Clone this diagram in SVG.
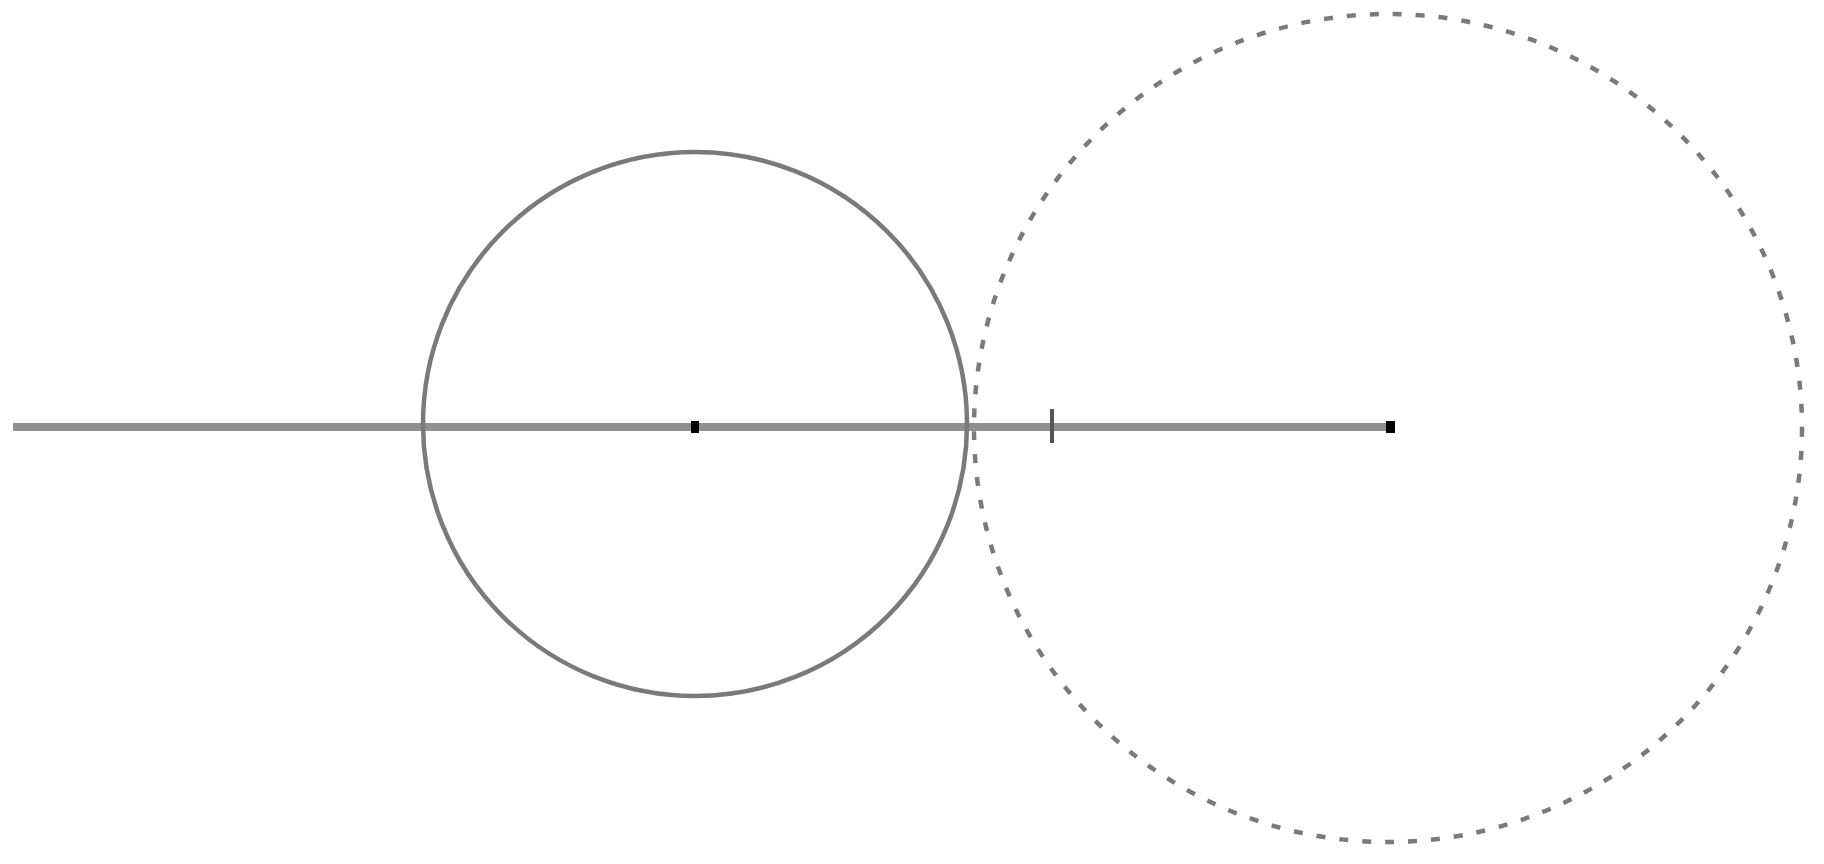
<svg xmlns="http://www.w3.org/2000/svg" width="1824" height="864" viewBox="0 0 1824 864">
<style>
.axis{stroke:#909090;stroke-width:8;fill:none}
.solid{stroke:#7a7a7a;stroke-width:4.5;fill:none}
.dashed{stroke:#7a7a7a;stroke-width:4.5;fill:none;stroke-dasharray:9 14}
.dot{fill:#000}
.tick{stroke:#555;stroke-width:4}
</style>
<rect width="1824" height="864" fill="#fff"/>
<g id="connectors">
<line class="axis" x1="13" y1="427" x2="1391" y2="427"/>
</g>
<g id="circle-left">
<circle class="solid" cx="695" cy="424" r="272"/>
</g>
<g id="circle-right">
<circle class="dashed" cx="1388" cy="428" r="414"/>
</g>
<g id="center-left">
<rect class="dot" x="691" y="421" width="8" height="12"/>
</g>
<g id="center-right">
<rect class="dot" x="1386" y="421" width="9" height="12"/>
</g>
<g id="tick">
<line class="tick" x1="1052" y1="409" x2="1052" y2="443"/>
</g>
</svg>
